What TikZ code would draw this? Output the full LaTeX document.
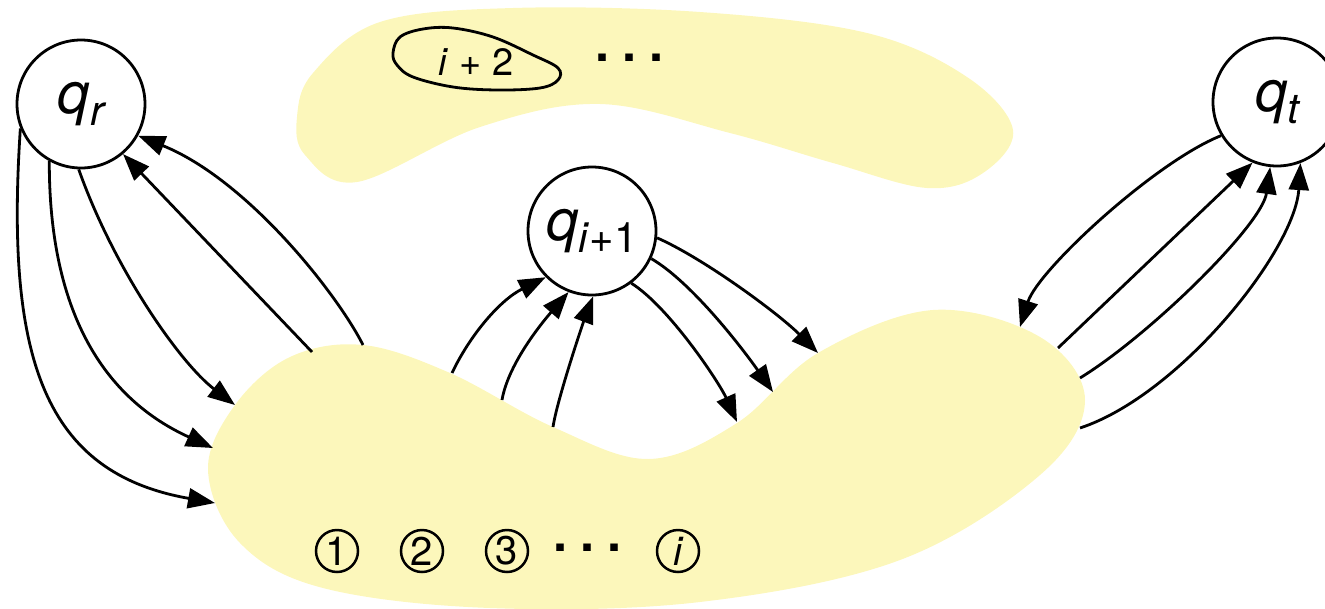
\documentclass[tikz,border=0pt]{standalone}
\usepackage{fontspec}
\setmainfont{TeX Gyre Heros}
\usetikzlibrary{arrows.meta}
\definecolor{blobyellow}{RGB}{252,247,187}
\newcommand{\lowidx}[1]{\raisebox{-12pt}{\fontsize{42}{42}\selectfont #1}}

\begin{document}
\begin{tikzpicture}[x=1pt,y=-1pt,
  state/.style={draw,circle,fill=white,line width=2.8pt,minimum size=128pt,inner sep=0pt,font=\fontsize{58}{58}\selectfont},
  num/.style={draw,circle,line width=2.5pt,minimum size=42pt,inner sep=0pt,font=\fontsize{40}{40}\selectfont},
  blob/.style={fill=blobyellow},
  ellip/.style={anchor=base,inner sep=0pt,font=\fontsize{72}{72}\selectfont},
  trans/.style={line width=2.8pt,-{Triangle[length=27pt,width=20pt]}}]
\useasboundingbox (0,0) rectangle (1325,608);
% the two groups of states
\fill[blob] plot[smooth cycle,tension=0.6] coordinates {(297,117) (313,73) (380,22) (513,8) (700,12) (867,33) (967,77) (1013,130) (983,173) (927,188) (833,163) (730,133) (600,104) (480,127) (357,182) (305,155)};
\fill[blob] plot[smooth cycle,tension=0.6] coordinates {(208,470) (235,405) (290,357) (363,345) (450,373) (553,427) (649,459) (737,423) (818,353) (933,310) (1040,337) (1085,400) (1040,475) (900,560) (700,602) (490,608) (323,588) (240,543)};
\draw[line width=2.8pt] plot[smooth cycle,tension=0.6] coordinates {(393,53) (400,37) (423,29) (453,28) (493,37) (533,55) (558,68) (558,80) (540,88) (497,90) (453,87) (413,77) (397,65)};
\node[anchor=base,font=\fontsize{38}{38}\selectfont] (plustwo) at (476,75) {\textit{i} + 2};
\node[ellip] (tdots) at (630,61.5) {.\kern7pt.\kern7pt.};
\node[num] (n1) at (337,551) {1};
\node[num] (n2) at (422,551) {2};
\node[num] (n3) at (507,551) {3};
\node[ellip] (bdots) at (588,551.5) {.\kern7pt.\kern7pt.};
\node[num] (ni) at (678,551) {\itshape i};
% states
\node[state] (qr) at (81,104) {\itshape q\lowidx{\itshape r}};
\node[state] (qn) at (592,231) {\itshape q\lowidx{\upshape\textit{i}+1}};
\node[state] (qt) at (1277,102) {\itshape q\lowidx{\itshape t}};
% ends on the blobs
\coordinate (l1) at (215,503);
\coordinate (l2) at (213,448);
\coordinate (l3) at (235,405);
\coordinate (l4) at (312,352);
\coordinate (l5) at (363,345);
\coordinate (m1) at (452,373);
\coordinate (m2) at (502,400);
\coordinate (m3) at (553,427);
\coordinate (m4) at (818,353);
\coordinate (m5) at (773,392);
\coordinate (m6) at (737,422);
\coordinate (r1) at (1020,327);
\coordinate (r2) at (1058,348);
\coordinate (r3) at (1080,378);
\coordinate (r4) at (1080,428);
% transitions
\draw[trans] (qr.202) .. controls (5,360) and (45,473) .. (l1);
\draw[trans] (qr.241) .. controls (49,311) and (103,398) .. (l2);
\draw[trans] (qr.268) .. controls (114,269) and (180,363) .. (l3);
\draw[trans] (l4) -- (qr.310);
\draw[trans] (l5) .. controls (338,295) and (248,180) .. (qr.331);
\draw[trans] (m1) .. controls (470,335) and (500,300) .. (qn.225);
\draw[trans] (m2) .. controls (508,365) and (540,325) .. (qn.249);
\draw[trans] (m3) .. controls (557,400) and (583,323) .. (qn.271);
\draw[trans] (qn.354) .. controls (703,258) and (778,313) .. (m4);
\draw[trans] (qn.335) .. controls (693,283) and (745,352) .. (m5);
\draw[trans] (qn.307) .. controls (669,307) and (719,382) .. (m6);
\draw[trans] (qt.211) .. controls (1155,162) and (1038,270) .. (r1);
\draw[trans] (r2) -- (qt.248);
\draw[trans] (r3) .. controls (1150,335) and (1262,225) .. (qt.264);
\draw[trans] (r4) .. controls (1180,395) and (1295,250) .. (qt.291);
\end{tikzpicture}
\end{document}
